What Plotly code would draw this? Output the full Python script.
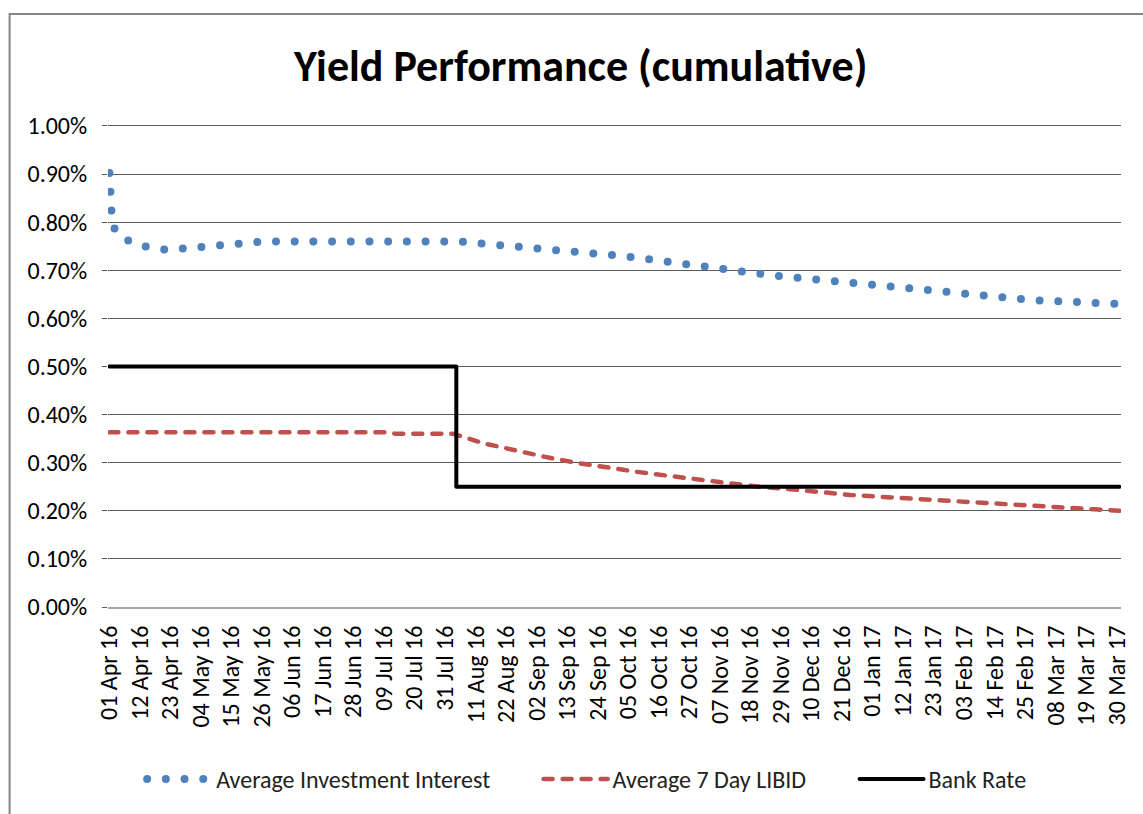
import plotly.graph_objects as go

# ---- data (values in percent) ----
invest_dates = ["2016-04-01", "2016-04-02", "2016-04-04", "2016-04-09", "2016-04-15", "2016-04-22",
                "2016-04-29", "2016-05-06", "2016-05-13", "2016-05-20", "2016-05-27", "2016-06-10",
                "2016-06-24", "2016-07-08", "2016-07-22", "2016-08-05", "2016-08-12", "2016-08-19",
                "2016-08-26", "2016-09-02", "2016-09-09", "2016-09-16", "2016-09-23", "2016-09-30",
                "2016-10-07", "2016-10-14", "2016-10-21", "2016-10-28", "2016-11-04", "2016-11-11",
                "2016-11-18", "2016-11-25", "2016-12-02", "2016-12-09", "2016-12-16", "2016-12-23",
                "2016-12-30", "2017-01-06", "2017-01-13", "2017-01-20", "2017-01-27", "2017-02-03",
                "2017-02-10", "2017-02-17", "2017-02-24", "2017-03-03", "2017-03-10", "2017-03-17",
                "2017-03-24", "2017-03-31"]
invest_values = [0.902, 0.795, 0.776, 0.757, 0.748, 0.742,
                 0.746, 0.750, 0.753, 0.756, 0.760, 0.760,
                 0.761, 0.761, 0.761, 0.760, 0.756, 0.753,
                 0.750, 0.746, 0.742, 0.739, 0.734, 0.731,
                 0.727, 0.721, 0.716, 0.710, 0.704, 0.699,
                 0.695, 0.690, 0.686, 0.681, 0.677, 0.674,
                 0.668, 0.665, 0.660, 0.656, 0.652, 0.649,
                 0.646, 0.643, 0.640, 0.637, 0.636, 0.634,
                 0.632, 0.630]

libid_dates = ["2016-04-01", "2016-07-10", "2016-07-13", "2016-08-03", "2016-08-14", "2016-08-25",
               "2016-09-05", "2016-09-16", "2016-09-27", "2016-10-08", "2016-10-19", "2016-10-30",
               "2016-11-10", "2016-11-21", "2016-12-02", "2016-12-13", "2016-12-24", "2017-01-04",
               "2017-01-15", "2017-01-26", "2017-02-06", "2017-02-17", "2017-02-28", "2017-03-11",
               "2017-03-22", "2017-03-31"]
libid_values = [0.363, 0.363, 0.360, 0.360, 0.340, 0.325,
                0.312, 0.300, 0.290, 0.281, 0.273, 0.265,
                0.257, 0.250, 0.245, 0.238, 0.233, 0.229,
                0.225, 0.221, 0.217, 0.213, 0.209, 0.206,
                0.203, 0.200]

bank_dates = ["2016-04-01", "2016-08-04", "2017-03-31"]
bank_values = [0.50, 0.25, 0.25]

tick_dates = ["2016-04-01", "2016-04-12", "2016-04-23", "2016-05-04", "2016-05-15", "2016-05-26",
              "2016-06-06", "2016-06-17", "2016-06-28", "2016-07-09", "2016-07-20", "2016-07-31",
              "2016-08-11", "2016-08-22", "2016-09-02", "2016-09-13", "2016-09-24", "2016-10-05",
              "2016-10-16", "2016-10-27", "2016-11-07", "2016-11-18", "2016-11-29", "2016-12-10",
              "2016-12-21", "2017-01-01", "2017-01-12", "2017-01-23", "2017-02-03", "2017-02-14",
              "2017-02-25", "2017-03-08", "2017-03-19", "2017-03-30"]

series_names = ["Average Investment Interest", "Average 7 Day LIBID", "Bank Rate"]

FONT = "Calibri, Carlito, Lato, sans-serif"
PAD = "\u00a0" * 8

fig = go.Figure()
fig.add_trace(go.Scatter(x=invest_dates, y=invest_values, mode="lines",
                         name=series_names[0] + PAD,
                         line=dict(color="#4F81BD", width=8, dash="0px,18.7px")))
fig.add_trace(go.Scatter(x=libid_dates, y=libid_values, mode="lines",
                         name=series_names[1] + PAD,
                         line=dict(color="#C0504D", width=4.5, dash="9px,10px")))
fig.add_trace(go.Scatter(x=bank_dates, y=bank_values, mode="lines",
                         name=series_names[2], line_shape="hv",
                         line=dict(color="#000000", width=4)))

PLOT_TOP = 124
fig.update_layout(
    width=1143, height=814,
    margin=dict(l=108, r=16, t=PLOT_TOP, b=203),
    paper_bgcolor="white", plot_bgcolor="white",
    font=dict(family=FONT, size=24, color="#000000"),
    title=dict(text="<b>Yield Performance (cumulative)</b>", x=0.508, xanchor="center",
               y=0.92, yanchor="middle", font=dict(family=FONT, size=44, color="#000000")),
    showlegend=True,
    legend=dict(orientation="h", x=0.4725, xanchor="center", y=-0.357, yanchor="middle",
                font=dict(family=FONT, size=24, color="#222222"), itemwidth=64,
                bgcolor="rgba(0,0,0,0)"),
    xaxis=dict(type="date", range=["2016-03-31 12:00", "2017-03-31 12:00"],
               tickmode="array", tickvals=tick_dates, tickformat="%d %b %y",
               tickangle=-90, showgrid=False, showline=True, linecolor="#A6A6A6",
               linewidth=2, ticks="", ticklabelstandoff=7,
               tickfont=dict(family=FONT, size=24)),
    yaxis=dict(range=[0, 1.004], tickmode="linear", tick0=0, dtick=0.1,
               tickformat=".2f", ticksuffix="%",
               showgrid=True, gridcolor="#5A5A5A", gridwidth=1, zeroline=False,
               showline=False, ticks="outside", ticklen=5, tickcolor="#5A5A5A",
               ticklabelstandoff=10, tickfont=dict(family=FONT, size=24)),
    shapes=[dict(type="rect", xref="paper", yref="paper",
                 x0=(9 - 108) / 1019, x1=1.2, y0=-0.6, y1=(611 - 13) / 487,
                 line=dict(color="#868686", width=2), fillcolor="rgba(0,0,0,0)", layer="below")],
)

post = """
document.body.style.margin = '0';
document.body.style.padding = '0';
var gd = document.getElementById('{plot_id}');
function roundCaps(){
  gd.querySelectorAll('path.js-line').forEach(function(p){
    p.style.strokeLinecap = 'round';
    p.style.strokeLinejoin = 'round';
  });
}
roundCaps();
gd.on('plotly_afterplot', roundCaps);
"""

fig.write_html("out.html", post_script=post, config={"displayModeBar": False})
